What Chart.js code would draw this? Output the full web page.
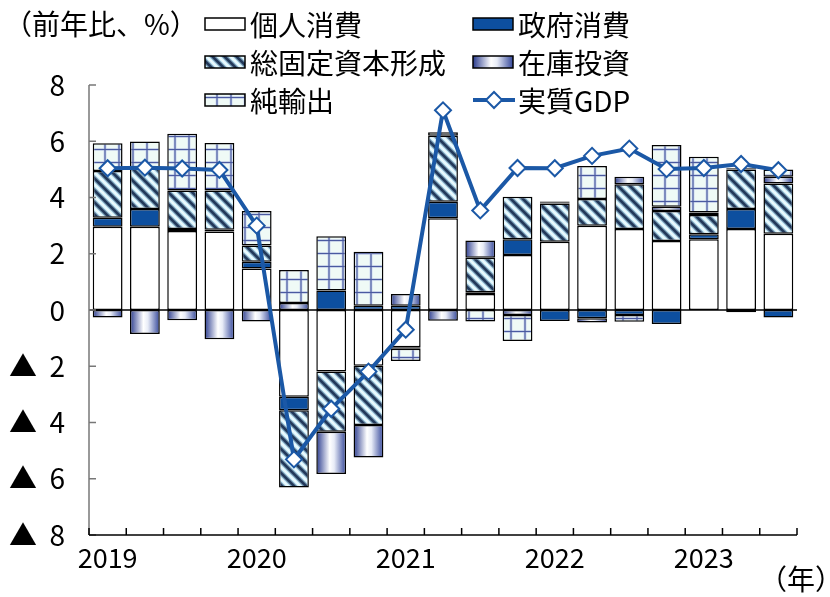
<!DOCTYPE html>
<html><head><meta charset="utf-8">
<script src="https://cdn.jsdelivr.net/npm/chart.js@4.4.0/dist/chart.umd.min.js"></script>
<style>html,body{margin:0;padding:0;background:#fff;}#wrap{position:relative;width:830px;height:597px;}</style>
</head><body><div id="wrap"><canvas id="c" width="830" height="597"></canvas></div>
<script>
// ---- data (前年比寄与度, %) ----
const quarters = ['2019Q1','2019Q2','2019Q3','2019Q4','2020Q1','2020Q2','2020Q3','2020Q4','2021Q1','2021Q2','2021Q3','2021Q4','2022Q1','2022Q2','2022Q3','2022Q4','2023Q1','2023Q2','2023Q3'];
const yearLabels = ['2019','','','','2020','','','','2021','','','','2022','','','','2023','',''];
const consumption = [2.96, 2.96, 2.81, 2.79, 1.48, -3.08, -2.19, -1.98, -1.32, 3.26, 0.57, 1.96, 2.43, 3.00, 2.88, 2.45, 2.52, 2.88, 2.71];
const government  = [0.32, 0.63, 0.07, 0.06, 0.24, -0.48, 0.69, 0.15, 0.15, 0.59, 0.06, 0.56, -0.39, -0.29, -0.18, -0.50, 0.17, 0.71, -0.27];
const gfcf        = [1.66, 1.45, 1.37, 1.40, 0.57, -2.75, -2.14, -2.11, -0.06, 2.35, 1.23, 1.51, 1.36, 0.95, 1.59, 1.07, 0.69, 1.41, 1.79];
const inventory   = [-0.27, -0.85, -0.36, -1.04, -0.41, 0.25, -1.50, -1.15, 0.42, -0.38, 0.61, -0.18, 0.04, -0.15, 0.27, 0.15, 0.09, -0.08, 0.24];
const netExports  = [0.99, 0.95, 2.02, 1.69, 1.23, 1.17, 1.93, 1.92, -0.43, 0.12, -0.41, -0.92, 0.03, 1.17, -0.24, 2.20, 1.98, 0.04, 0.26];
const realGDP     = [5.04, 5.06, 5.03, 4.98, 3.00, -5.31, -3.51, -2.19, -0.70, 7.10, 3.54, 5.05, 5.04, 5.48, 5.74, 5.01, 5.05, 5.19, 4.97];
const seriesNames = ['個人消費','政府消費','総固定資本形成','在庫投資','純輸出','実質GDP'];
const yMin = -8, yMax = 8, yStep = 2;

const JP = '"Noto Sans CJK JP",sans-serif';
const canvas = document.getElementById('c');
const ctx0 = canvas.getContext('2d');

const GOV = '#0d4f9f';
const LINE = '#1b58a6';

function makeHatch(){
  const s=12, c=document.createElement('canvas'); c.width=s; c.height=s;
  const g=c.getContext('2d');
  g.fillStyle='#f3fcff'; g.fillRect(0,0,s,s);
  const draw=(w,col)=>{g.strokeStyle=col;g.lineWidth=w;g.beginPath();
    for(const o of [-s,0,s]){g.moveTo(o-2,-2);g.lineTo(o+s+2,s+2);} g.stroke();};
  draw(7,'#c9ecf7'); draw(4.5,'#6f8fab'); draw(2.5,'#22395a');
  return ctx0.createPattern(c,'repeat');
}
function makeGrid(){
  const w=14,h=13,c=document.createElement('canvas'); c.width=w; c.height=h;
  const g=c.getContext('2d');
  g.fillStyle='#effaf6'; g.fillRect(0,0,w,h);
  g.fillStyle='#cdd8f0'; g.fillRect(5.5,0,3,h); g.fillRect(0,5.3,w,2.4);
  g.fillStyle='#4a5aa0'; g.fillRect(6.4,0,1.2,h); g.fillRect(0,5.9,w,1.2);
  return ctx0.createPattern(c,'repeat');
}
const hatch = makeHatch();
const gridPat = makeGrid();

function invGradient(c, x0, x1){
  const g=c.createLinearGradient(x0,0,x1,0);
  g.addColorStop(0,'#2b3c8e'); g.addColorStop(0.45,'#ffffff'); g.addColorStop(0.6,'#e8ecf7'); g.addColorStop(1,'#34479a');
  return g;
}

const barCommon = {type:'bar', stack:'s', borderColor:'#000', borderWidth:1.5, borderSkipped:false, barPercentage:0.8, categoryPercentage:1.0, order:2};

const axesPlugin = {
  id:'axes',
  beforeDatasetsDraw(chart){
    const {ctx, chartArea:a, scales:{y}} = chart;
    ctx.save();
    const y0 = y.getPixelForValue(0);
    ctx.strokeStyle='#000'; ctx.lineWidth=1.5;
    ctx.beginPath(); ctx.moveTo(a.left,y0); ctx.lineTo(a.right,y0); ctx.stroke();
    ctx.restore();
  },
  afterDatasetsDraw(chart){
    const {ctx, chartArea:a, scales:{x,y}} = chart;
    ctx.save();
    ctx.strokeStyle='#777'; ctx.lineWidth=1.5;
    ctx.beginPath(); ctx.moveTo(a.left,a.top); ctx.lineTo(a.left,a.bottom); ctx.stroke();
    for(let v=yMin; v<=yMax; v+=yStep){
      const py=y.getPixelForValue(v);
      ctx.beginPath(); ctx.moveTo(a.left,py); ctx.lineTo(a.left+7,py); ctx.stroke();
    }
    ctx.strokeStyle='#000'; ctx.lineWidth=1.5;
    ctx.beginPath(); ctx.moveTo(a.left,a.bottom); ctx.lineTo(a.right,a.bottom); ctx.stroke();
    const n=quarters.length, step=x.getPixelForValue(1)-x.getPixelForValue(0);
    for(let i=0;i<=n;i++){
      const px = i<n ? x.getPixelForValue(i)-step/2 : x.getPixelForValue(n-1)+step/2;
      ctx.beginPath(); ctx.moveTo(px,a.bottom); ctx.lineTo(px,a.bottom-7); ctx.stroke();
    }
    ctx.restore();
  },
  afterDraw(chart){
    const ctx=chart.ctx;
    ctx.save();
    ctx.fillStyle='#000'; ctx.textBaseline='middle';
    ctx.font='28px '+JP;
    ctx.textAlign='left';
    ctx.fillText('（前年比、%）', 4, 24);
    ctx.textAlign='right';
    ctx.fillText('（年）', 843, 579);
    ctx.textAlign='left';
    const cols=[205,473], rows=[24,62,100], sw=40, sh=12;
    const fills=['#ffffff',GOV,hatch,'inv',gridPat,'line'];
    for(let k=0;k<6;k++){
      const cx=cols[k%2], cy=rows[Math.floor(k/2)];
      if(fills[k]==='line'){
        ctx.strokeStyle=LINE; ctx.lineWidth=4;
        ctx.beginPath(); ctx.moveTo(cx,cy); ctx.lineTo(cx+sw+2,cy); ctx.stroke();
        const r=8, mx=cx+sw/2+1;
        ctx.beginPath(); ctx.moveTo(mx-r,cy); ctx.lineTo(mx,cy-r); ctx.lineTo(mx+r,cy); ctx.lineTo(mx,cy+r); ctx.closePath();
        ctx.fillStyle='#fff'; ctx.fill(); ctx.lineWidth=2; ctx.stroke();
      } else {
        ctx.fillStyle = fills[k]==='inv' ? invGradient(ctx,cx,cx+sw) : fills[k];
        ctx.fillRect(cx,cy-sh/2,sw,sh);
        ctx.strokeStyle='#000'; ctx.lineWidth=1.5; ctx.strokeRect(cx,cy-sh/2,sw,sh);
      }
      ctx.fillStyle='#000'; ctx.font='28px '+JP;
      ctx.fillText(seriesNames[k], cx+sw+5, cy+1);
    }
    ctx.restore();
  }
};

new Chart(canvas, {
  data:{
    labels: quarters,
    datasets:[
      {...barCommon, label:seriesNames[0], data:consumption, backgroundColor:'#ffffff'},
      {...barCommon, label:seriesNames[1], data:government, backgroundColor:GOV},
      {...barCommon, label:seriesNames[2], data:gfcf, backgroundColor:hatch},
      {...barCommon, label:seriesNames[3], data:inventory, backgroundColor:(c)=>{
        const ch=c.chart, xs=ch.scales && ch.scales.x;
        if(!xs || !ch.chartArea || c.dataIndex===undefined) return '#8c98c8';
        const cx=xs.getPixelForValue(c.dataIndex), w=(xs.getPixelForValue(1)-xs.getPixelForValue(0))*0.8;
        return invGradient(ch.ctx, cx-w/2, cx+w/2);
      }},
      {...barCommon, label:seriesNames[4], data:netExports, backgroundColor:gridPat},
      {type:'line', label:seriesNames[5], data:realGDP, stack:'gdp', order:1, borderColor:LINE, borderWidth:4, tension:0,
       pointStyle:'rectRot', pointRadius:8, pointHoverRadius:8, pointBackgroundColor:'#fff', pointBorderColor:LINE, pointBorderWidth:2}
    ]
  },
  options:{
    responsive:false, animation:false, devicePixelRatio:1,
    layout:{padding:{left:0,right:33,top:85,bottom:0}},
    plugins:{legend:{display:false}, tooltip:{enabled:false}, title:{display:false}},
    scales:{
      x:{stacked:true, offset:true, grid:{display:false, drawTicks:false}, border:{display:false},
         ticks:{autoSkip:false, maxRotation:0, padding:7, color:'#000', font:{family:JP, size:27},
                callback:(v,i)=>yearLabels[i]},
         afterFit:(s)=>{s.height=62;}},
      y:{stacked:true, min:yMin, max:yMax, grid:{display:false, drawTicks:false}, border:{display:false},
         ticks:{stepSize:yStep, padding:24, color:'#000', font:{family:JP, size:28},
                callback:(v)=> v<0 ? '▲  '+(-v) : String(v)},
         afterFit:(s)=>{s.width=89;}}
    }
  },
  plugins:[axesPlugin]
});
</script></body></html>
